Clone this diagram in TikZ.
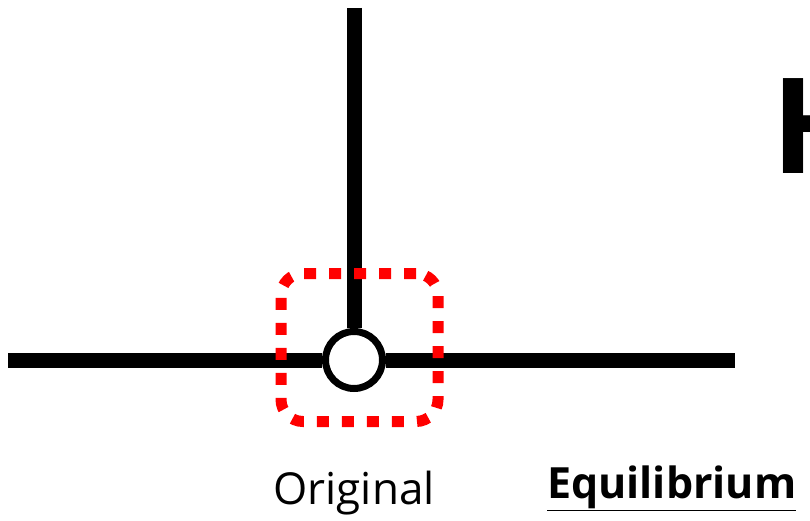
\documentclass[tikz,border=0pt]{standalone}
\usepackage{fontspec}
\setmainfont{Open Sans}
\usetikzlibrary{positioning}

\begin{document}
\begin{tikzpicture}[x=1pt, y=-1pt,
  axis/.style={line width=15pt},
  joint/.style={circle, draw, line width=7pt, fill=white, minimum size=57pt, inner sep=0pt},
  focusbox/.style={draw=red, line width=11pt, rounded corners=22pt, dash pattern=on 12pt off 13pt,
    minimum width=157pt, minimum height=148pt, inner sep=0pt}]
  \clip (0,0) rectangle (810,521);
  % frame
  \coordinate (top) at (354,8);
  \coordinate (left) at (8,360);
  \coordinate (right) at (735,360);
  \node[joint] (orig) at (354,360) {};
  \draw[axis] (top) -- (orig);
  \draw[axis] (left) -- (orig);
  \draw[axis] (orig) -- (right);
  \node[focusbox] (focus) at (359.5,347.5) {};
  % labels
  \node[anchor=base, inner sep=0pt, font=\fontsize{44}{48}\selectfont] (lblorig) at (354,504) {Original};
  \node[anchor=base west, inner sep=0pt, font=\bfseries\fontsize{43}{46}\selectfont] (lbleq) at (547,498) {\underline{Equilibrium}};
  \node[anchor=base west, inner sep=0pt, font=\bfseries\fontsize{133}{140}\selectfont] (head) at (771,174) {H};
\end{tikzpicture}
\end{document}
